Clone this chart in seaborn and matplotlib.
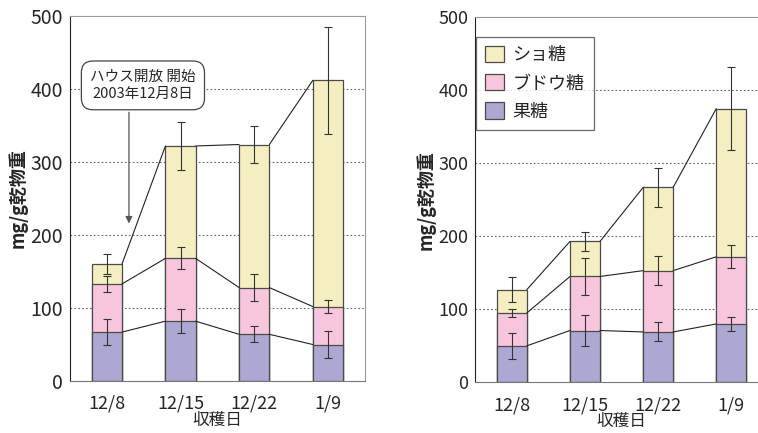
import matplotlib
matplotlib.use('Agg')
import numpy as np
import pandas as pd
import seaborn as sns
from matplotlib import pyplot as plt

# data (mg/g dry weight)
dates = ['12/8', '12/15', '12/22', '1/9']
sugars = ['ショ糖', 'ブドウ糖', '果糖']
colors = {'ショ糖': '#f5eec0', 'ブドウ糖': '#f7c6dc', '果糖': '#ada8d2'}

left_fructose = [67, 82, 64, 50]
left_glucose = [66, 86, 64, 52]
left_sucrose = [27, 154, 196, 310]
left_err_fructose = [18, 16, 11, 19]
left_err_glucose = [11, 15, 19, 9]
left_err_sucrose = [14, 33, 25, 73]

right_fructose = [50, 71, 69, 80]
right_glucose = [45, 74, 84, 92]
right_sucrose = [32, 48, 114, 203]
right_err_fructose = [18, 21, 13, 10]
right_err_glucose = [5, 26, 20, 16]
right_err_sucrose = [17, 13, 27, 57]

note_text = 'ハウス開放 開始\n2003年12月8日'

sns.set_style('white')
plt.rcParams['font.family'] = ['Noto Sans CJK JP', 'DejaVu Sans']

BAR_W = 0.41


def stacked_panel(ax, fru, glu, suc, efru, eglu, esuc, tick_size):
    lvl1 = np.array(fru, float)
    lvl2 = lvl1 + np.array(glu)
    lvl3 = lvl2 + np.array(suc)
    df = pd.DataFrame({'date': dates * 3,
                       'sugar': ['ショ糖'] * 4 + ['ブドウ糖'] * 4 + ['果糖'] * 4,
                       'top': list(lvl3) + list(lvl2) + list(lvl1)})
    # draw from back (total) to front so bars look stacked
    for s in sugars:
        sns.barplot(data=df[df['sugar'] == s], x='date', y='top', order=dates,
                    color=colors[s], width=BAR_W, edgecolor='#4a4a4a',
                    linewidth=0.9, saturation=1, errorbar=None, ax=ax,
                    zorder=2, label=s)
    x = np.arange(len(dates))
    for lvl, err in [(lvl1, efru), (lvl2, eglu), (lvl3, esuc)]:
        ax.errorbar(x, lvl, yerr=err, fmt='none', ecolor='#333333',
                    elinewidth=0.8, capsize=3, capthick=0.8, zorder=4)
        for i in range(len(dates) - 1):
            ax.plot([x[i] + BAR_W / 2, x[i + 1] - BAR_W / 2], [lvl[i], lvl[i + 1]],
                    color='#222222', lw=0.8, zorder=3)

    ax.set_xlim(-0.5, 3.5)
    ax.set_ylim(0, 500)
    ax.set_yticks([0, 100, 200, 300, 400, 500])
    ax.set_xticks(x)
    ax.set_xticks([0.5, 1.5, 2.5], minor=True)
    ax.tick_params(axis='x', which='major', length=0, pad=10, labelsize=13)
    ax.tick_params(axis='x', which='minor', direction='in', length=5,
                   width=0.8, color='#555555')
    ax.tick_params(axis='y', length=0, pad=5, labelsize=tick_size)
    for y in [100, 200, 300, 400]:
        ax.axhline(y, color='#666666', lw=0.8, ls=(0, (1.5, 2)), zorder=1)
    ax.spines['left'].set_color('#222222')
    ax.spines['bottom'].set_color('#777777')
    for side in ['top', 'right']:
        ax.spines[side].set_color('#999999')
        ax.spines[side].set_linewidth(0.8)
    ax.set_xlabel('収穫日', fontsize=12, labelpad=-1)
    ax.set_ylabel('mg/g乾物重', fontsize=13, fontweight='bold', labelpad=2)


fig = plt.figure(figsize=(7.58, 4.33), dpi=100)
ax1 = fig.add_axes([0.0923, 0.120, 0.389, 0.843])
ax2 = fig.add_axes([0.627, 0.117, 0.386, 0.843])

stacked_panel(ax1, left_fructose, left_glucose, left_sucrose,
              left_err_fructose, left_err_glucose, left_err_sucrose, 14)
stacked_panel(ax2, right_fructose, right_glucose, right_sucrose,
              right_err_fructose, right_err_glucose, right_err_sucrose, 13)
ax1.legend_.remove()

# note on the left panel
ax1.text(0.49, 405, note_text, ha='center', va='center', fontsize=10.5,
         linespacing=1.3, zorder=6,
         bbox=dict(boxstyle='round,pad=0.6,rounding_size=0.8',
                   fc='white', ec='#444444', lw=0.9))
ax1.annotate('', xy=(0.30, 212), xytext=(0.30, 372),
             arrowprops=dict(arrowstyle='-|>', color='#555555', lw=0.9,
                             mutation_scale=10), zorder=5)

handles, labels = ax2.get_legend_handles_labels()
leg = ax2.legend(handles, labels, loc='upper left', bbox_to_anchor=(0.004, 0.946),
                 borderaxespad=0, fontsize=13, frameon=True, fancybox=False,
                 handlelength=1.0, handleheight=1.0, labelspacing=0.55,
                 borderpad=0.5, handletextpad=0.5)
leg.get_frame().set_edgecolor('#444444')
leg.get_frame().set_linewidth(0.9)

fig.savefig('out.png', dpi=100)
